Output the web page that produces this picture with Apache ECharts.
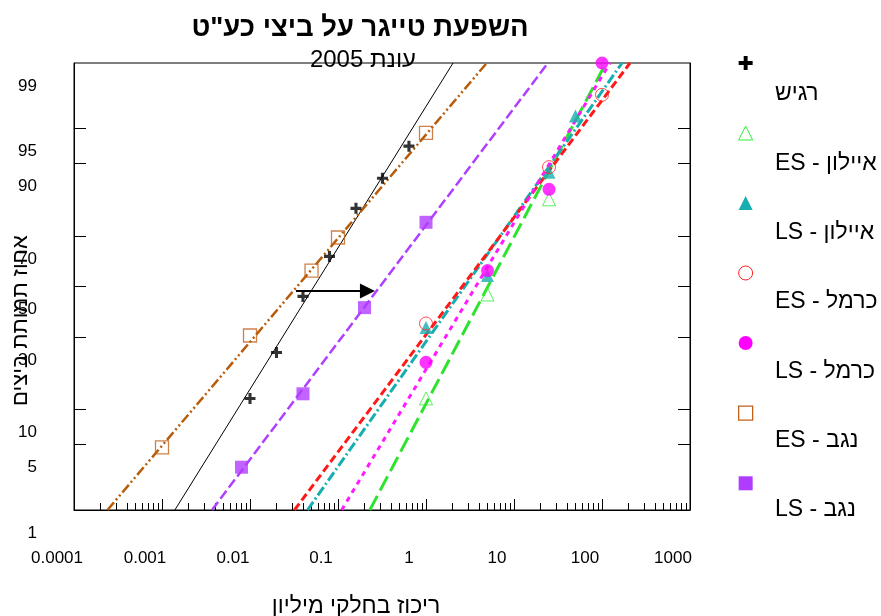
<!DOCTYPE html>
<html><head><meta charset="utf-8">
<script src="https://cdn.jsdelivr.net/npm/echarts@6/dist/echarts.min.js"></script>
<style>html,body{margin:0;padding:0;background:#fff}#c{width:881px;height:616px}</style>
</head><body><div id="c"></div>
<script>
// ---------- data ----------
const xTickValues = [0.0001, 0.001, 0.01, 0.1, 1, 10, 100, 1000];
const xTickLabels = ['0.0001', '0.001', '0.01', '0.1', '1', '10', '100', '1000'];
const yTickLabels = [1, 5, 10, 30, 50, 70, 90, 95, 99];
const yInnerTicks = [5, 10, 30, 50, 70, 90, 95];
const seriesNames = ['רגיש', 'ES - איילון', 'LS - איילון', 'ES - כרמל', 'LS - כרמל', 'ES - נגב', 'LS - נגב'];

const sensConc = [0.01, 0.02, 0.04, 0.08, 0.16, 0.32, 0.64];
const sensMort = [12.2, 24.6, 45.9, 62.3, 79.2, 87.0, 92.8];
const ayalonESConc = [1, 5, 25];
const ayalonESMort = [12.2, 46.7, 81.8];
const ayalonLSConc = [1, 5, 25, 50];
const ayalonLSMort = [33.5, 54.6, 88.3, 96.2];
const carmelESConc = [1, 25, 100];
const carmelESMort = [35.0, 89.3, 97.7];
const carmelLSConc = [1, 5, 25, 100];
const carmelLSMort = [21.5, 56.6, 84.4, 99.0];
const negevESConc = [0.001, 0.01, 0.05, 0.1, 1];
const negevESMort = [4.7, 30.5, 56.6, 69.5, 94.5];
const negevLSConc = [0.008, 0.04, 0.2, 1];
const negevLSMort = [3.0, 13.2, 41.3, 74.8];

// fitted probit lines: concentration at 1% and at 99% mortality
const fitConcAt1 = [0.0014, 0.23, 0.045, 0.032, 0.11, 0.00024, 0.0037];
const fitConcAt99 = [2.03, 111, 169, 208, 123, 4.9, 24.3];

// arrow annotation (concentration from / to, mortality level)
const arrowConc = [0.0333, 0.216];
const arrowMort = 48.1;

// ---------- probit scale ----------
function probit(p) {
  const a = [-3.969683028665376e+01, 2.209460984245205e+02, -2.759285104469687e+02, 1.383577518672690e+02, -3.066479806614716e+01, 2.506628277459239e+00];
  const b = [-5.447609879822406e+01, 1.615858368580409e+02, -1.556989798598866e+02, 6.680131188771972e+01, -1.328068155288572e+01];
  const c = [-7.784894002430293e-03, -3.223964580411365e-01, -2.400758277161838e+00, -2.549732539343734e+00, 4.374664141464968e+00, 2.938163982698783e+00];
  const d = [7.784695709041462e-03, 3.224671290700398e-01, 2.445134137142996e+00, 3.754408661907416e+00];
  const pl = 0.02425, ph = 1 - pl; let q, r;
  if (p < pl) { q = Math.sqrt(-2 * Math.log(p)); return (((((c[0]*q+c[1])*q+c[2])*q+c[3])*q+c[4])*q+c[5]) / ((((d[0]*q+d[1])*q+d[2])*q+d[3])*q+1); }
  if (p <= ph) { q = p - 0.5; r = q*q; return (((((a[0]*r+a[1])*r+a[2])*r+a[3])*r+a[4])*r+a[5])*q / (((((b[0]*r+b[1])*r+b[2])*r+b[3])*r+b[4])*r+1); }
  q = Math.sqrt(-2 * Math.log(1 - p)); return -(((((c[0]*q+c[1])*q+c[2])*q+c[3])*q+c[4])*q+c[5]) / ((((d[0]*q+d[1])*q+d[2])*q+d[3])*q+1);
}
const P = v => probit(v / 100);
const zMin = P(1), zMax = P(99);
const zip = (xs, ys) => xs.map((x, i) => [x, P(ys[i])]);

const FONT = '"Liberation Sans", Arial, sans-serif';
const plusPath = 'path://M3.6,0H6.4V3.6H10V6.4H6.4V10H3.6V6.4H0V3.6H3.6Z';

const groups = [
  { pts: zip(sensConc, sensMort), symbol: plusPath, size: 11, item: { color: '#000' }, line: { color: '#000', width: 1, type: 'solid' } },
  { pts: zip(ayalonESConc, ayalonESMort), symbol: 'triangle', size: 13, item: { color: 'rgba(255,255,255,0)', borderColor: '#33ee33', borderWidth: 1 }, line: { color: '#2ee32e', width: 3, type: [16, 6] } },
  { pts: zip(ayalonLSConc, ayalonLSMort), symbol: 'triangle', size: 13, item: { color: '#17aeb0' }, line: { color: '#17aeb0', width: 3, type: [10, 3, 2, 3] } },
  { pts: zip(carmelESConc, carmelESMort), symbol: 'circle', size: 13, item: { color: 'rgba(255,255,255,0)', borderColor: '#ff2020', borderWidth: 1 }, line: { color: '#ff1a1a', width: 3, type: [8, 4] } },
  { pts: zip(carmelLSConc, carmelLSMort), symbol: 'circle', size: 13, item: { color: '#ff00ff' }, line: { color: '#ff1aff', width: 3, type: [5, 5] } },
  { pts: zip(negevESConc, negevESMort), symbol: 'rect', size: 13, item: { color: 'rgba(255,255,255,0)', borderColor: '#c0621c', borderWidth: 1.3 }, line: { color: '#b85c0a', width: 2.5, type: [10, 3, 2, 3, 2, 3] } },
  { pts: zip(negevLSConc, negevLSMort), symbol: 'rect', size: 13, item: { color: '#b03cff' }, line: { color: '#b040ff', width: 2.5, type: [10, 4] } }
];

const series = [];
groups.forEach((g, i) => {
  series.push({
    name: seriesNames[i], type: 'line', xAxisIndex: 0, yAxisIndex: 0,
    data: [[fitConcAt1[i], zMin], [fitConcAt99[i], zMax]],
    showSymbol: false, symbol: 'none', lineStyle: g.line, z: 2, silent: true
  });
});
groups.forEach((g, i) => {
  series.push({
    name: seriesNames[i], type: 'scatter', xAxisIndex: 0, yAxisIndex: 0,
    data: g.pts, symbol: g.symbol, symbolSize: g.size, itemStyle: g.item, z: 4, silent: true
  });
});
series.push({
  name: 'arrow', type: 'line', xAxisIndex: 0, yAxisIndex: 0, data: [], z: 5,
  markLine: {
    silent: true, animation: false,
    symbol: ['none', 'triangle'], symbolSize: [15, 15],
    label: { show: false },
    lineStyle: { color: '#000', width: 2, type: 'solid' },
    emphasis: { disabled: true },
    data: [[{ coord: [arrowConc[0], P(arrowMort)] }, { coord: [arrowConc[1], P(arrowMort)] }]]
  }
});

const legendData = groups.map((g, i) => ({
  name: seriesNames[i],
  icon: g.symbol,
  itemStyle: Object.assign({ borderWidth: 0 }, g.item)
}));

const minorTicks = [];
for (let e = -4; e < 3; e++) for (let k = 2; k <= 9; k++) minorTicks.push(k * Math.pow(10, e));

const chart = echarts.init(document.getElementById('c'), null, { renderer: 'canvas' });
chart.setOption({
  animation: false,
  backgroundColor: '#fff',
  textStyle: { fontFamily: FONT, color: '#000' },
  title: [
    { text: 'השפעת טייגר על ביצי כע"ט', left: 360, top: 14, textAlign: 'center', padding: 0,
      textStyle: { fontFamily: FONT, fontSize: 27.5, fontWeight: 'bold', color: '#000' } },
    { text: 'עונת 2005', left: 363, top: 48, textAlign: 'center', padding: 0,
      textStyle: { fontFamily: FONT, fontSize: 24, fontWeight: 'normal', color: '#000' } }
  ],
  legend: [
    { orient: 'vertical', left: 738, top: 56, padding: 0, itemWidth: 14, itemHeight: 14, itemGap: 55.5,
      formatter: () => '', textStyle: { fontSize: 10, lineHeight: 14 }, selectedMode: false,
      data: legendData },
    { orient: 'vertical', left: 770, top: 82, padding: 0, itemWidth: 0, itemHeight: 0, itemGap: 45.3,
      icon: 'rect', selectedMode: false,
      textStyle: { fontFamily: FONT, fontSize: 23, lineHeight: 24, color: '#000' },
      data: seriesNames.map(n => ({ name: n, itemStyle: { opacity: 0 } })) }
  ],
  grid: { left: 74, right: 191, top: 63, bottom: 106, show: true, borderColor: '#000', borderWidth: 1,
    backgroundColor: 'transparent', containLabel: false, outerBoundsMode: 'none' },
  xAxis: [
    { type: 'log', logBase: 10, min: 0.0001, max: 1000, position: 'bottom',
      name: 'ריכוז בחלקי מיליון', nameLocation: 'middle', nameGap: 85, nameMoveOverlap: false,
      nameTextStyle: { fontFamily: FONT, fontSize: 23, color: '#000', padding: [0, 52, 0, 0] },
      axisLine: { show: true, onZero: false, lineStyle: { color: '#000', width: 1 } },
      axisTick: { show: true, inside: true, length: 11, customValues: xTickValues, lineStyle: { color: '#000' } },
      axisLabel: { show: true, customValues: xTickValues, margin: 40, fontSize: 17, color: '#000', fontFamily: FONT,
        padding: [0, 34, 0, 0],
        formatter: v => { let best = 0; xTickValues.forEach((t, i) => { if (Math.abs(Math.log10(t) - Math.log10(v)) < Math.abs(Math.log10(xTickValues[best]) - Math.log10(v))) best = i; }); return xTickLabels[best]; } },
      splitLine: { show: false }, minorTick: { show: false }, minorSplitLine: { show: false } },
    { type: 'log', logBase: 10, min: 0.0001, max: 1000, position: 'bottom', offset: 0,
      axisLine: { show: false, onZero: false },
      axisTick: { show: true, inside: true, length: 7, customValues: minorTicks, lineStyle: { color: '#000' } },
      axisLabel: { show: false }, splitLine: { show: false } }
  ],
  yAxis: [
    { type: 'value', min: zMin, max: zMax, position: 'left',
      name: 'אחוז תמותת ביצים', nameLocation: 'middle', nameGap: 42, nameRotate: 90, nameMoveOverlap: false,
      nameTextStyle: { fontFamily: FONT, fontSize: 22, color: '#000', padding: [0, 68, 0, 0] },
      axisLine: { show: true, onZero: false, lineStyle: { color: '#000', width: 1 } },
      axisTick: { show: true, inside: true, length: 12, customValues: yInnerTicks.map(P), lineStyle: { color: '#000' } },
      axisLabel: { show: true, customValues: yTickLabels.map(P), margin: 37, fontSize: 17, color: '#000', fontFamily: FONT,
        formatter: v => { let best = 0; yTickLabels.forEach((t, i) => { if (Math.abs(P(t) - v) < Math.abs(P(yTickLabels[best]) - v)) best = i; }); return '{a|' + yTickLabels[best] + '}'; },
        rich: { a: { fontSize: 17, fontFamily: FONT, color: '#000', padding: [46, 0, 0, 0] } } },
      splitLine: { show: false } },
    { type: 'value', min: zMin, max: zMax, position: 'right',
      axisLine: { show: true, onZero: false, lineStyle: { color: '#000', width: 1 } },
      axisTick: { show: true, inside: true, length: 12, customValues: yInnerTicks.map(P), lineStyle: { color: '#000' } },
      axisLabel: { show: false }, splitLine: { show: false } }
  ],
  series: series
});
</script></body></html>
